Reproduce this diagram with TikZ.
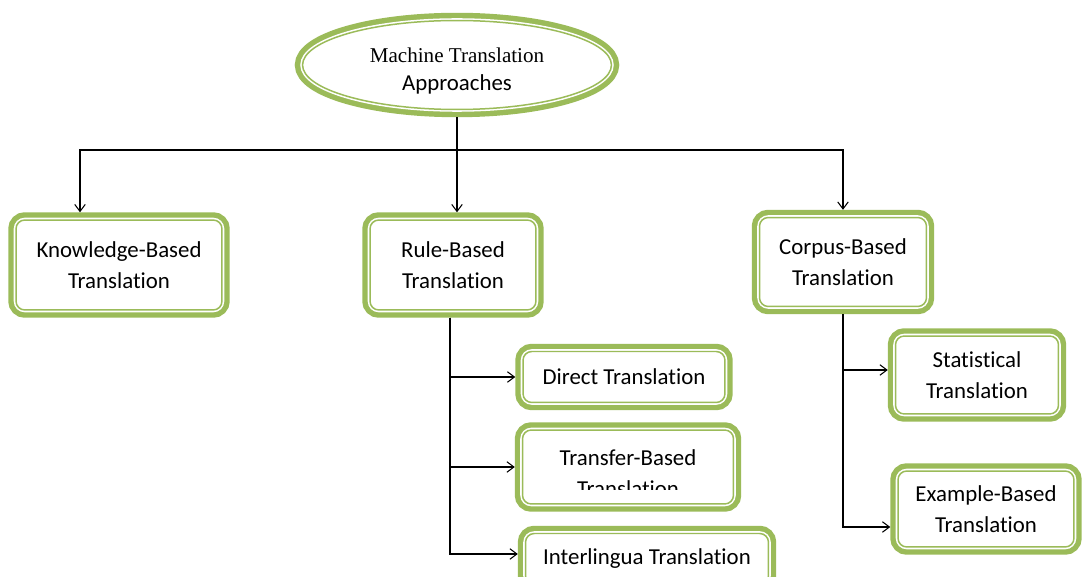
\documentclass[tikz,border=0pt]{standalone}
\usepackage{fontspec}
\setmainfont{Carlito}[Ligatures={NoCommon}]
\newfontfamily\timesfont{Liberation Serif}
\usetikzlibrary{shapes.geometric,arrows.meta}
\definecolor{boxgreen}{HTML}{9BBB59}

\begin{document}
\begin{tikzpicture}[x=0.02cm,y=-0.02cm,
    frame/.style={draw=boxgreen, fill=white, line width=0.85pt,
      preaction={draw=boxgreen, line width=8.8pt},
      preaction={draw=white, line width=2.6pt},
      inner sep=0pt, outer sep=4.4pt, align=center,
      font=\fontsize{13}{18}\selectfont},
    box/.style={frame, rounded corners=5pt},
    link/.style={-{Straight Barb[length=4pt,width=6pt]}, line width=0.6pt}]
  \useasboundingbox (0,0) rectangle (1083,577);
  \clip (0,0) rectangle (1083,577);

  \node[frame, ellipse, minimum width=6.18cm, minimum height=1.78cm] (mta) at (457,65)
    {\rule{0pt}{15pt}{\timesfont\fontsize{12}{15}\selectfont Machine Translation}\\[-2pt]Approaches};

  \node[box, minimum width=4.12cm, minimum height=1.80cm] (kb) at (119,265) {Knowledge-Based\\Translation};
  \node[box, minimum width=3.32cm, minimum height=1.80cm] (rb) at (453,265) {Rule-Based\\Translation};
  \node[box, minimum width=3.34cm, minimum height=1.78cm] (cb) at (843,262) {Corpus-Based\\Translation};

  \node[box, minimum width=4.04cm, minimum height=1.02cm] (direct) at (624,377) {Direct Translation};
  \node[box, minimum width=4.22cm, minimum height=1.48cm] (transfer) at (628,467) {};
  \node[box, minimum width=4.86cm, minimum height=1.02cm] (inter) at (647,559) {Interlingua Translation};

  \node[box, minimum width=3.26cm, minimum height=1.56cm] (stat) at (977,375) {Statistical\\Translation};
  \node[box, minimum width=3.52cm, minimum height=1.52cm] (example) at (986,509) {Example-Based\\Translation};

  \begin{scope}
    \clip (515,420) rectangle (745,490);
    \node[align=center, font=\fontsize{13}{18}\selectfont] (transfertext) at (628,473) {Transfer-Based\\Translation};
  \end{scope}

  \coordinate (split) at (457,150);
  \draw[line width=0.6pt] (mta.south) -- (split);
  \draw[link] (split) -| ([xshift=-0.78cm]kb.north);
  \draw[link] (split) -- (split |- rb.north);
  \draw[link] (split) -| (cb.north);

  \draw[link] ([xshift=-0.06cm]rb.south) |- (direct.west);
  \draw[link] ([xshift=-0.06cm]rb.south) |- (transfer.west);
  \draw[link] ([xshift=-0.06cm]rb.south) |- ([yshift=0.1cm]inter.west);

  \draw[link] (cb.south) |- ([yshift=0.1cm]stat.west);
  \draw[link] (cb.south) |- ([yshift=-0.36cm]example.west);
\end{tikzpicture}
\end{document}
